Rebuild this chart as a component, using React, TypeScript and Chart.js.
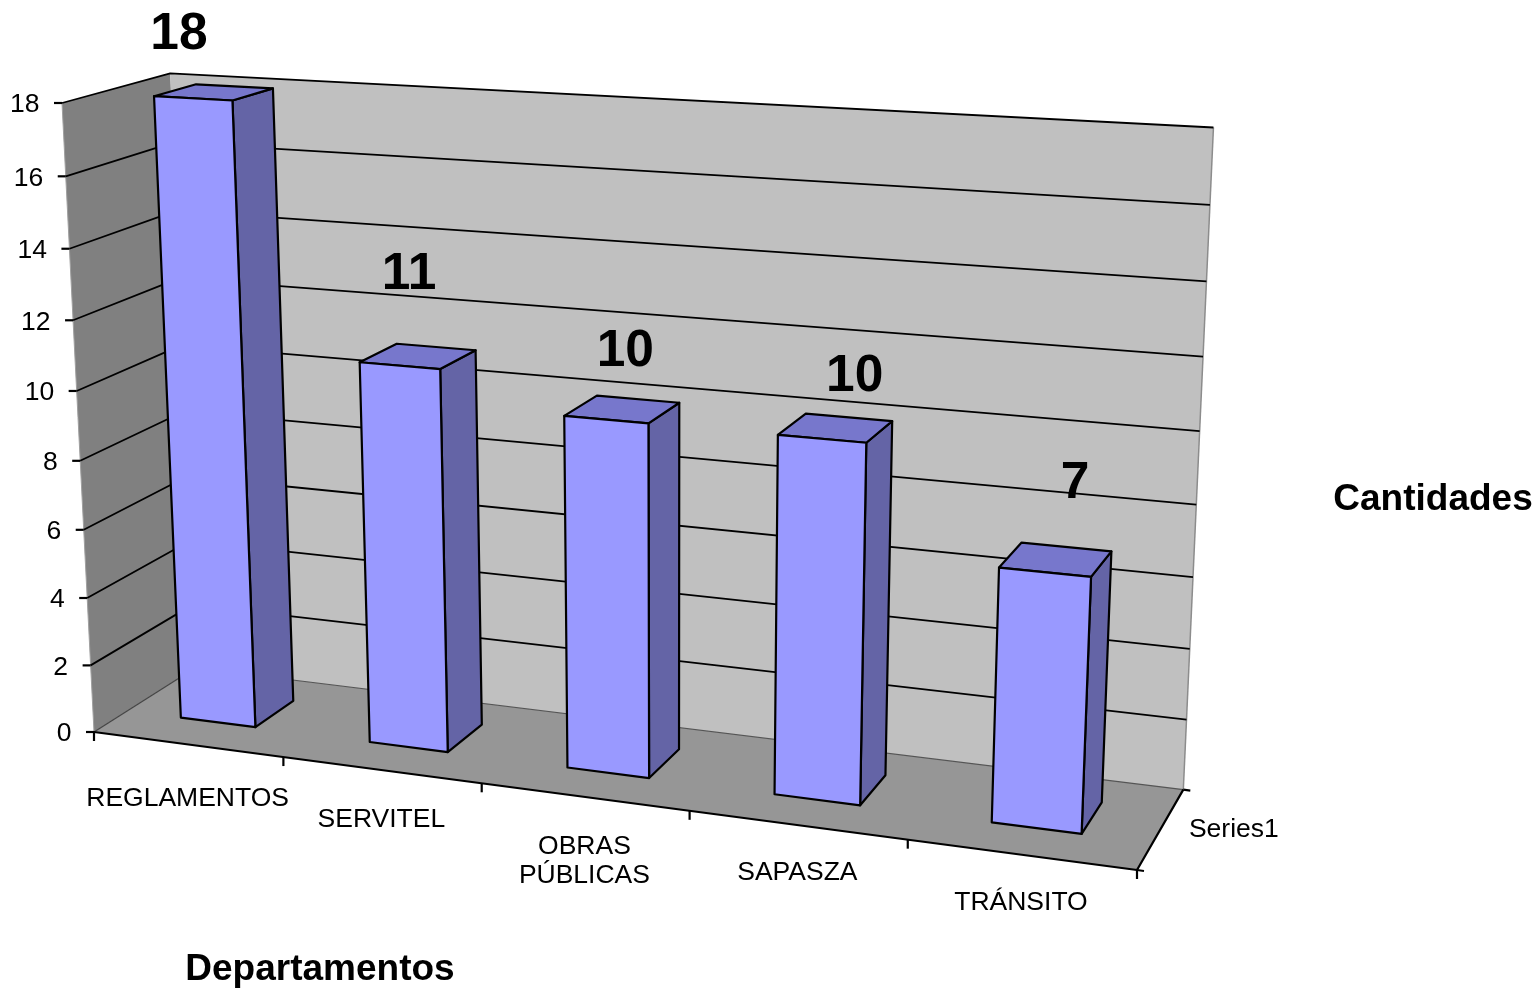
import React, { useEffect, useRef } from "react";
import { Chart, registerables } from "chart.js";

Chart.register(...registerables);

const categories = ["REGLAMENTOS", "SERVITEL", ["OBRAS", "PÚBLICAS"], "SAPASZA", "TRÁNSITO"];
const seriesName = "Series1";
const values = [18, 11, 10, 10, 7];
const valueAxisTitle = "Cantidades";
const categoryAxisTitle = "Departamentos";

// Style / layout constants (not data)
const FRONT = "#9999FF";
const TOP = "#7777CC";
const SIDE = "#6464A6";
const BACK_WALL = "#C0C0C0";
const SIDE_WALL = "#808080";
const FLOOR = "#969696";
const FONT = '"Liberation Sans", Arial, sans-serif';
const DEPTH_FRONT = 0.32;
const DEPTH_BACK = 0.72;
const BAR_U_SHIFT = -0.002;
const labelShift: [number, number][] = [[-37, -58], [-11, -82], [1, -58], [17, -51], [17, -76]];
const categoryShift = [54.5, 49.5, 64.5, 47.5, 48.5];

// Camera: perspective corners of the unit box
const O = [94, 732], U = [1137, 870], V = [62, 103], W = [195, 668];
const A = 0.8875, B = 0.9474, G = 1.0606;
function cam(u: number, v: number, w: number): [number, number] {
  const x = O[0] + u * (A * U[0] - O[0]) + v * (B * V[0] - O[0]) + w * (G * W[0] - O[0]);
  const y = O[1] + u * (A * U[1] - O[1]) + v * (B * V[1] - O[1]) + w * (G * W[1] - O[1]);
  const d = 1 + u * (A - 1) + v * (B - 1) + w * (G - 1);
  return [x / d, y / d];
}

function poly(ctx: CanvasRenderingContext2D, pts: [number, number][], fill: string | null, stroke: string | null, lw = 1) {
  ctx.beginPath();
  pts.forEach((p, i) => (i ? ctx.lineTo(p[0], p[1]) : ctx.moveTo(p[0], p[1])));
  if (fill) {
    ctx.closePath();
    ctx.fillStyle = fill;
    ctx.fill();
  }
  if (stroke) {
    ctx.strokeStyle = stroke;
    ctx.lineWidth = lw;
    ctx.lineJoin = "round";
    ctx.stroke();
  }
}

const perspective3D = {
  id: "perspective3D",
  beforeDatasetsDraw(chart: any) {
    const { ctx, chartArea: a, scales } = chart;
    const xs = scales.x, ys = scales.y;
    const uOf = (px: number) => (px - a.left) / a.width;
    const vOf = (py: number) => (a.bottom - py) / a.height;
    const vTick = (t: number) => vOf(ys.getPixelForValue(t));

    ctx.save();
    // walls & floor
    poly(ctx, [cam(0, 0, 0), cam(0, 1, 0), cam(0, 1, 1), cam(0, 0, 1)], SIDE_WALL, null);
    poly(ctx, [cam(0, 0, 1), cam(0, 1, 1), cam(1, 1, 1), cam(1, 0, 1)], BACK_WALL, null);
    poly(ctx, [cam(0, 0, 0), cam(0, 0, 1), cam(1, 0, 1), cam(1, 0, 0)], FLOOR, null);
    poly(ctx, [cam(1, 1, 1), cam(1, 0, 1)], null, "#8C8C8C", 1.5);
    poly(ctx, [cam(0, 0, 0), cam(0, 1, 0)], null, "#A0A0A0", 1);
    poly(ctx, [cam(0, 0, 1), cam(1, 0, 1)], null, "#555555", 1.2);
    poly(ctx, [cam(0, 0, 0), cam(0, 0, 1)], null, "#444444", 1.2);

    // grid & value ticks
    ctx.font = `26.5px ${FONT}`;
    ctx.textAlign = "right";
    ctx.textBaseline = "middle";
    ys.ticks.forEach((t: any) => {
      const v = vTick(t.value);
      if (t.value > 0) {
        poly(ctx, [cam(0, v, 0), cam(0, v, 1), cam(1, v, 1)], null, "#000000", 1.8);
      }
      const p = cam(0, v, 0);
      poly(ctx, [[p[0] - 8, p[1]], p], null, "#000000", 2.2);
      ctx.fillStyle = "#000000";
      ctx.fillText(String(t.value), p[0] - 22.5, p[1] + 2);
    });

    // axis edges
    poly(ctx, [cam(0, 0, 0), cam(1, 0, 0), cam(1, 0, 1)], null, "#000000", 2.2);

    // category ticks
    for (let i = 0; i <= xs.ticks.length; i++) {
      const px = a.left + (a.width * i) / xs.ticks.length;
      const p = cam(uOf(px), 0, 0);
      poly(ctx, [p, [p[0], p[1] + 9]], null, "#000000", 2.2);
    }
    // depth ticks
    [0, 1].forEach((w) => {
      const p = cam(1, 0, w);
      poly(ctx, [p, [p[0] + 7, p[1] + 1]], null, "#000000", 2.2);
    });

    // bars
    const meta = chart.getDatasetMeta(0);
    const ds = chart.data.datasets[0];
    meta.data.forEach((bar: any) => {
      const u0 = uOf(bar.x - bar.width / 2) + BAR_U_SHIFT, u1 = uOf(bar.x + bar.width / 2) + BAR_U_SHIFT;
      const vt = vOf(bar.y), vb = vOf(bar.base);
      const f = DEPTH_FRONT, k = DEPTH_BACK;
      poly(ctx, [cam(u1, vb, f), cam(u1, vt, f), cam(u1, vt, k), cam(u1, vb, k)], SIDE, "#000000", 2.2);
      poly(ctx, [cam(u0, vt, f), cam(u1, vt, f), cam(u1, vt, k), cam(u0, vt, k)], TOP, "#000000", 2.2);
      poly(ctx, [cam(u0, vb, f), cam(u0, vt, f), cam(u1, vt, f), cam(u1, vb, f)], ds.backgroundColor, "#000000", 2.2);
    });

    // value labels
    ctx.fillStyle = "#000000";
    ctx.textAlign = "center";
    ctx.textBaseline = "middle";
    ctx.font = `bold 51.5px ${FONT}`;
    meta.data.forEach((bar: any, i: number) => {
      const p = cam(uOf(bar.x), vOf(bar.y), (DEPTH_FRONT + DEPTH_BACK) / 2);
      ctx.fillText(String(ds.data[i]), p[0] + labelShift[i][0], p[1] + labelShift[i][1]);
    });

    // category labels
    ctx.font = `26.5px ${FONT}`;
    xs.ticks.forEach((t: any, i: number) => {
      const p = cam(uOf(xs.getPixelForTick(i)), 0, 0);
      const lab = chart.data.labels[i];
      const lines = Array.isArray(lab) ? lab : [lab];
      lines.forEach((s: string, j: number) => {
        const y = p[1] + categoryShift[i] + (j - (lines.length - 1) / 2) * 29;
        ctx.fillText(s, p[0], y);
      });
    });

    // series label
    const s = cam(1, 0, 0.5);
    ctx.textAlign = "left";
    ctx.fillText(ds.label, s[0] + 28, s[1] + 1);

    // axis titles
    ctx.textAlign = "center";
    ctx.font = `bold 37px ${FONT}`;
    ctx.fillText(valueAxisTitle, 1433, 500);
    ctx.fillText(categoryAxisTitle, 320, 970);
    ctx.restore();
    return false;
  },
};

export default function App() {
  const ref = useRef<HTMLCanvasElement>(null);
  useEffect(() => {
    const chart = new Chart(ref.current!, {
      type: "bar",
      data: {
        labels: categories as any,
        datasets: [
          {
            label: seriesName,
            data: values,
            backgroundColor: FRONT,
            barPercentage: 0.4,
            categoryPercentage: 1,
          },
        ],
      },
      options: {
        animation: false,
        responsive: false,
        plugins: { legend: { display: false }, tooltip: { enabled: false } },
        layout: { padding: 0 },
        scales: {
          x: { display: false, title: { display: false, text: categoryAxisTitle } },
          y: {
            display: false,
            min: 0,
            max: 18,
            ticks: { stepSize: 2 },
            title: { display: false, text: valueAxisTitle },
          },
        },
      },
      plugins: [perspective3D],
    } as any);
    return () => chart.destroy();
  }, []);
  return (
    <div style={{ position: "absolute", left: 0, top: 0, width: 1539, height: 991, background: "#fff" }}>
      <canvas ref={ref} width={1539} height={991} style={{ display: "block" }} />
    </div>
  );
}
